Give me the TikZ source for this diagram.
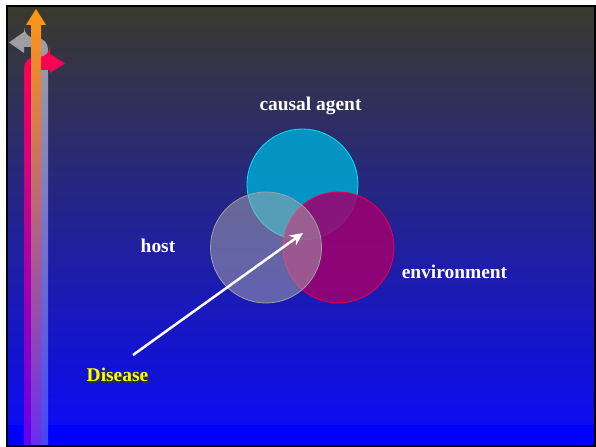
\documentclass[tikz,border=0pt]{standalone}
\usepackage{fontspec}
\setmainfont{Liberation Serif}
\usepackage{tikz}
\usetikzlibrary{arrows.meta}
\usetikzlibrary{shapes.geometric}
\usetikzlibrary{positioning, calc}
\definecolor{bgtop}{RGB}{58,58,46}
\definecolor{bgmid}{RGB}{42,42,168}
\definecolor{bgbot}{RGB}{12,12,242}
\definecolor{bgblue}{RGB}{0,0,255}
\definecolor{redtop}{RGB}{255,0,80}
\definecolor{redmid}{RGB}{190,0,170}
\definecolor{redbot}{RGB}{100,0,235}
\definecolor{graytop}{RGB}{160,160,160}
\definecolor{graymid}{RGB}{110,110,215}
\definecolor{graybot}{RGB}{70,70,245}
\definecolor{orgtop}{RGB}{255,150,20}
\definecolor{orgmid}{RGB}{200,110,180}
\definecolor{orgbot}{RGB}{105,45,240}
\definecolor{agentfill}{RGB}{0,160,205}
\definecolor{agentline}{RGB}{0,230,240}
\definecolor{envfill}{RGB}{160,0,110}
\definecolor{envline}{RGB}{235,0,70}
\definecolor{hostfill}{RGB}{170,170,170}
\definecolor{hostline}{RGB}{160,160,160}
\definecolor{dyellow}{RGB}{255,255,0}

\begin{document}
\begin{tikzpicture}[x=1bp, y=-1bp,
    lbl/.style={font=\fontsize{19.5}{22}\selectfont\bfseries, text=white,
                inner sep=0pt, anchor=base},
    ring/.style={circle, minimum size=111bp, inner sep=0pt, line width=0.8bp}]
    \useasboundingbox (0,0) rectangle (596,447);
    \fill[white] (0,0) rectangle (596,447);

    % BACKGROUND
    \shade[top color=bgtop, middle color=bgmid, bottom color=bgbot]
        (8,7) rectangle (594,425);
    \fill[bgblue] (8,425) rectangle (594,445);
    \draw[line width=2.5bp] (7,6) rectangle (595,446);

    % BENT ARROWS ON THE LEFT
    \shade[top color=graytop, middle color=graymid, bottom color=graybot]
        (48,445) {[rounded corners=11bp] -- (48,38) -- (24,38)} -- (24,32)
        -- (9,42.5) -- (24,53) -- (24,47) -- (41,47) -- (41,445) -- cycle;
    \shade[top color=redtop, middle color=redmid, bottom color=redbot]
        (24,445) {[rounded corners=11bp] -- (24,57) -- (50,57)} -- (50,54)
        -- (65,63.5) -- (50,73) -- (50,70) -- (31,70) -- (31,445) -- cycle;
    \shade[top color=orgtop, middle color=orgmid, bottom color=orgbot]
        (31,445) -- (31,25) -- (26,25) -- (36,9) -- (46,25) -- (41,25)
        -- (41,445) -- cycle;

    % THE THREE CIRCLES
    \node[ring, draw=agentline, fill=agentfill, fill opacity=0.9] (agent) at (302.5,184.5) {};
    \node[ring, draw=envline, fill=envfill, fill opacity=0.85] (env) at (338.5,247.5) {};
    \node[ring, draw=hostline, fill=hostfill, fill opacity=0.5] (host) at (266,247.5) {};

    % LABELS
    \node[lbl] (agentlbl) at (310.5,110.5) {causal agent};
    \node[lbl] (hostlbl) at (158,252.5) {host};
    \node[lbl] (envlbl) at (454.5,278.5) {environment};
    \node[lbl, text=black!80] (diseaseshadow) at (119,383) {Disease};
    \node[lbl, text=dyellow] (disease) at (117.5,381.5) {Disease};

    % POINTER TO THE OVERLAP
    \coordinate (tail) at (133,355);
    \coordinate (core) at (303,233);
    \draw[white, line width=2.5bp, -{Stealth[length=13bp, width=12bp]}] (tail) -- (core);
\end{tikzpicture}
\end{document}
